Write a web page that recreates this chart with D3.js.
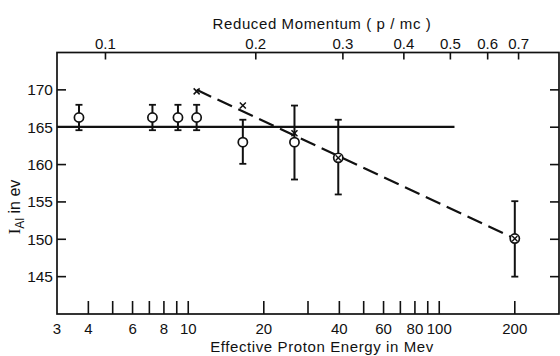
<!DOCTYPE html>
<html>
<head>
<meta charset="utf-8">
<script src="https://cdn.jsdelivr.net/npm/d3@7"></script>
<style>
  body { margin: 0; background: #fff; }
  text { font-family: "Liberation Sans", Arial, sans-serif; fill: #111; }
</style>
</head>
<body>
<div id="chart"></div>
<script>
// Werte
const energyTicks = [4, 5, 6, 7, 8, 9, 10, 20, 30, 40, 50, 60, 70, 80, 90, 100, 200];
const energyLabels = [3, 4, 6, 8, 10, 20, 40, 60, 80, 100, 200];
const momentumTicks = [0.1, 0.2, 0.3, 0.4, 0.5, 0.6, 0.7];
const yTicks = [145, 150, 155, 160, 165, 170];

// Messpunkte (Kreise mit Fehlerbalken)
const energies = [3.67, 7.2, 9.1, 10.8, 16.5, 26.5, 39.6, 200];
const values = [166.3, 166.3, 166.3, 166.3, 163.0, 163.0, 160.9, 150.1];
const errLow = [164.6, 164.6, 164.6, 164.6, 160.1, 158.0, 156.0, 145.0];
const errHigh = [168.0, 168.0, 168.0, 168.0, 166.0, 167.9, 166.0, 155.1];
const crossed = [false, false, false, false, false, false, true, true];

// x-Markierungen
const crossE = [10.8, 16.5, 26.5];
const crossV = [169.8, 167.9, 164.2];

// gestrichelte Gerade und Mittelwert-Linie
const fitE = [10.8, 200];
const fitV = [170.0, 150.1];
const meanE = [3, 115];
const meanV = [165.05, 165.05];

const width = 560, height = 356;
const protonMass = 938.3; // MeV

const svg = d3.select("#chart")
    .append("svg")
    .attr("width", width)
    .attr("height", height);

const x = d3.scaleLog().domain([3, 300]).range([57, 559]);
const y = d3.scaleLinear().domain([140, 175]).range([314, 52.5]);

// Impuls p/mc -> kinetische Energie
const momentumToEnergy = p => protonMass * (Math.sqrt(1 + p * p) - 1);

const g = svg.append("g");

// Rahmen
g.append("rect")
    .attr("x", x.range()[0])
    .attr("y", y.range()[1])
    .attr("width", x.range()[1] - x.range()[0])
    .attr("height", y.range()[0] - y.range()[1])
    .attr("fill", "none")
    .attr("stroke", "#111")
    .attr("stroke-width", 1.7);

// untere Achse: Ticks nach innen
g.selectAll(".btick")
    .data(energyTicks)
    .join("line")
    .attr("x1", d => x(d)).attr("x2", d => x(d))
    .attr("y1", y.range()[0]).attr("y2", y.range()[0] - 13)
    .attr("stroke", "#111").attr("stroke-width", 1.6);

g.selectAll(".blabel")
    .data(energyLabels)
    .join("text")
    .attr("x", d => x(d))
    .attr("y", 334)
    .attr("text-anchor", "middle")
    .attr("font-size", 15)
    .text(d => d);

// obere Achse (Reduced Momentum)
g.selectAll(".ttick")
    .data(momentumTicks)
    .join("line")
    .attr("x1", d => x(momentumToEnergy(d))).attr("x2", d => x(momentumToEnergy(d)))
    .attr("y1", y.range()[1]).attr("y2", y.range()[1] + 7)
    .attr("stroke", "#111").attr("stroke-width", 1.6);

g.selectAll(".tlabel")
    .data(momentumTicks)
    .join("text")
    .attr("x", d => x(momentumToEnergy(d)))
    .attr("y", 49)
    .attr("text-anchor", "middle")
    .attr("font-size", 15)
    .text(d => d.toFixed(1));

// linke und rechte Ticks
g.selectAll(".ltick")
    .data(yTicks)
    .join("line")
    .attr("x1", x.range()[0]).attr("x2", x.range()[0] + 9)
    .attr("y1", d => y(d)).attr("y2", d => y(d))
    .attr("stroke", "#111").attr("stroke-width", 1.6);

g.selectAll(".rtick")
    .data(yTicks)
    .join("line")
    .attr("x1", x.range()[1]).attr("x2", x.range()[1] - 9)
    .attr("y1", d => y(d)).attr("y2", d => y(d))
    .attr("stroke", "#111").attr("stroke-width", 1.6);

g.selectAll(".llabel")
    .data(yTicks)
    .join("text")
    .attr("x", 53)
    .attr("y", d => y(d) + 5.5)
    .attr("text-anchor", "end")
    .attr("font-size", 15.5)
    .text(d => d);

// Achsentitel
svg.append("text")
    .attr("x", 322).attr("y", 29)
    .attr("text-anchor", "middle")
    .attr("font-size", 15)
    .attr("letter-spacing", 0.6)
    .text("Reduced Momentum ( p / mc )");

svg.append("text")
    .attr("x", 322).attr("y", 352)
    .attr("text-anchor", "middle")
    .attr("font-size", 15)
    .attr("letter-spacing", 0.6)
    .text("Effective Proton Energy in Mev");

const ylab = svg.append("text")
    .attr("transform", "translate(20,207) rotate(-90)")
    .attr("text-anchor", "middle")
    .attr("font-size", 16);
ylab.append("tspan").attr("font-family", "Liberation Serif, serif").attr("font-size", 17).text("I");
ylab.append("tspan").attr("font-size", 12).attr("dy", 4).text("Al");
ylab.append("tspan").attr("dy", -4).text(" in ev");

// Mittelwert-Linie
const line = d3.line().x(d => x(d[0])).y(d => y(d[1]));

g.append("path")
    .attr("d", line(d3.zip(meanE, meanV)))
    .attr("fill", "none")
    .attr("stroke", "#111")
    .attr("stroke-width", 2.2);

// gestrichelte Linie
g.append("path")
    .attr("d", line(d3.zip(fitE, fitV)))
    .attr("fill", "none")
    .attr("stroke", "#111")
    .attr("stroke-width", 2.2)
    .attr("stroke-dasharray", "16,7");

// Fehlerbalken
const points = energies.map((e, i) => ({e, v: values[i], lo: errLow[i], hi: errHigh[i], c: crossed[i]}));

const pt = g.selectAll(".pt")
    .data(points)
    .join("g")
    .attr("transform", d => `translate(${x(d.e)},0)`);

pt.append("line")
    .attr("y1", d => y(d.lo)).attr("y2", d => y(d.hi))
    .attr("stroke", "#111").attr("stroke-width", 2);
pt.append("line")
    .attr("x1", -3.5).attr("x2", 3.5)
    .attr("y1", d => y(d.hi)).attr("y2", d => y(d.hi))
    .attr("stroke", "#111").attr("stroke-width", 1.8);
pt.append("line")
    .attr("x1", -3.5).attr("x2", 3.5)
    .attr("y1", d => y(d.lo)).attr("y2", d => y(d.lo))
    .attr("stroke", "#111").attr("stroke-width", 1.8);

pt.append("circle")
    .attr("cy", d => y(d.v))
    .attr("r", 4.6)
    .attr("fill", "#fff")
    .attr("stroke", "#111")
    .attr("stroke-width", 1.7);

// Kreuz im Kreis
pt.filter(d => d.c).each(function(d) {
    const s = d3.select(this);
    [[-2.6, -2.6, 2.6, 2.6], [-2.6, 2.6, 2.6, -2.6]].forEach(c => {
        s.append("line")
            .attr("x1", c[0]).attr("y1", y(d.v) + c[1])
            .attr("x2", c[2]).attr("y2", y(d.v) + c[3])
            .attr("stroke", "#111").attr("stroke-width", 1.4);
    });
});

// x-Markierungen
const crosses = g.selectAll(".cross")
    .data(d3.zip(crossE, crossV))
    .join("g")
    .attr("transform", d => `translate(${x(d[0])},${y(d[1])})`);

crosses.append("line")
    .attr("x1", -3).attr("y1", -3).attr("x2", 3).attr("y2", 3)
    .attr("stroke", "#111").attr("stroke-width", 1.5);
crosses.append("line")
    .attr("x1", -3).attr("y1", 3).attr("x2", 3).attr("y2", -3)
    .attr("stroke", "#111").attr("stroke-width", 1.5);
</script>
</body>
</html>
